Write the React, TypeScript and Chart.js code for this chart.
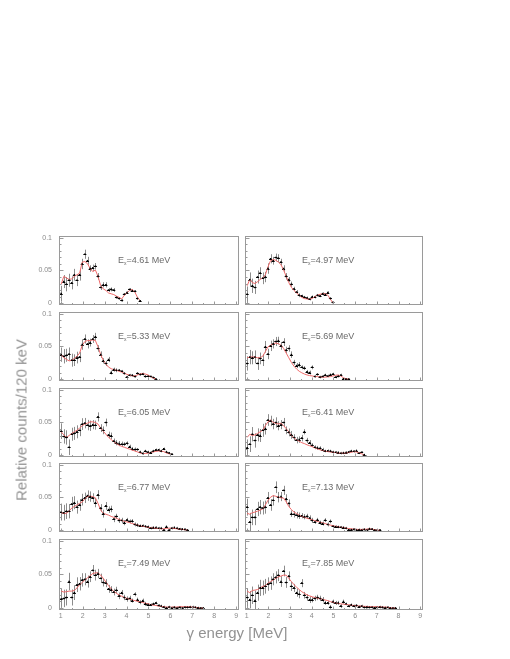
import React, { useEffect, useRef } from 'react';
import { Chart, registerables } from 'chart.js';
Chart.register(...registerables);

// ---------------- DATA ----------------
const energyBins = [1.02, 1.14, 1.26, 1.38, 1.5, 1.62, 1.74, 1.86, 1.98, 2.1, 2.22, 2.34, 2.46, 2.58, 2.7, 2.82, 2.94, 3.06, 3.18, 3.3, 3.42, 3.54, 3.66, 3.78, 3.9, 4.02, 4.14, 4.26, 4.38, 4.5, 4.62, 4.74, 4.86, 4.98, 5.1, 5.22, 5.34, 5.46, 5.58, 5.7, 5.82, 5.94, 6.06, 6.18, 6.3, 6.42, 6.54, 6.66, 6.78, 6.9, 7.02, 7.14, 7.26, 7.38, 7.5, 7.62, 7.74, 7.86];

const excitationEnergies = ['4.61', '4.97', '5.33', '5.69', '6.05', '6.41', '6.77', '7.13', '7.49', '7.85'];

const yTickValues = [0, 0.05, 0.1];
const yMinorTickValues = [0.01, 0.02, 0.03, 0.04, 0.06, 0.07, 0.08, 0.09];
const xTickValues = [1, 2, 3, 4, 5, 6, 7, 8, 9];
const xMinorTickValues = [1.5, 2.5, 3.5, 4.5, 5.5, 6.5, 7.5, 8.5];

const counts461 = [0.0145, 0.033, 0.029, 0.035, 0.031, 0.0435, 0.035, 0.0435, 0.06, 0.075, 0.065, 0.053, 0.054, 0.0565, 0.041, 0.024, 0.028, 0.028, 0.02, 0.021, 0.02, 0.0087, 0.007, 0.004, 0.0135, 0.016, 0.021, 0.019, 0.018, 0.007, 0.0034];
const model461 = [0.029, 0.041, 0.0387, 0.0362, 0.0372, 0.041, 0.0435, 0.0459, 0.0628, 0.0638, 0.0604, 0.0531, 0.0483, 0.0507, 0.041, 0.0266, 0.0217, 0.0193, 0.0155, 0.0142, 0.013, 0.0106, 0.0087, 0.0063, 0.0121, 0.0159, 0.0193, 0.0208, 0.0169, 0.0087, 0.0039];
const err461 = [0.012, 0.01, 0.011, 0.01, 0.01, 0.009, 0.009, 0.009, 0.008, 0.007, 0.006, 0.005, 0.005, 0.005, 0.005, 0.004, 0.004, 0.004, 0.003, 0.003, 0.003, 0.002, 0.002, 0.002, 0.002, 0.002, 0.002, 0.002, 0.002, 0.002, 0.001];

const counts497 = [0.0135, 0.036, 0.0265, 0.024, 0.04, 0.046, 0.038, 0.04, 0.053, 0.068, 0.065, 0.07, 0.069, 0.063, 0.053, 0.041, 0.036, 0.029, 0.022, 0.017, 0.012, 0.011, 0.009, 0.008, 0.006, 0.0097, 0.009, 0.012, 0.011, 0.0145, 0.013, 0.016, 0.007, 0.001];
const model497 = [0.0266, 0.0362, 0.0314, 0.03, 0.0329, 0.0362, 0.0387, 0.0435, 0.0556, 0.0652, 0.0667, 0.0657, 0.0628, 0.0589, 0.0507, 0.041, 0.0314, 0.0242, 0.0193, 0.0155, 0.0121, 0.0087, 0.0068, 0.0063, 0.0058, 0.0072, 0.0097, 0.0121, 0.0135, 0.0145, 0.0145, 0.0121, 0.0058, 0];
const err497 = [0.012, 0.011, 0.011, 0.01, 0.01, 0.009, 0.009, 0.008, 0.008, 0.007, 0.006, 0.006, 0.006, 0.005, 0.005, 0.005, 0.004, 0.004, 0.003, 0.003, 0.003, 0.002, 0.002, 0.002, 0.002, 0.002, 0.002, 0.002, 0.002, 0.002, 0.002, 0.002, 0.002, 0.001];

const counts533 = [0.0375, 0.035, 0.0365, 0.0385, 0.029, 0.029, 0.033, 0.034, 0.053, 0.0615, 0.054, 0.056, 0.0615, 0.065, 0.047, 0.0375, 0.028, 0.024, 0.03, 0.01, 0.0145, 0.0135, 0.0135, 0.012, 0.0087, 0.003, 0.006, 0.0058, 0.004, 0.0087, 0.007, 0.0077, 0.004, 0.0043, 0.004, 0.0024, 0];
const model533 = [0.0375, 0.0327, 0.0303, 0.0279, 0.0288, 0.0317, 0.0351, 0.0399, 0.0519, 0.0577, 0.0591, 0.0591, 0.0601, 0.0591, 0.0495, 0.0375, 0.0288, 0.0231, 0.0183, 0.0159, 0.0144, 0.0135, 0.012, 0.0106, 0.0087, 0.0072, 0.0058, 0.0048, 0.0048, 0.0063, 0.0077, 0.0087, 0.0077, 0.0063, 0.0038, 0.0014, 0];
const err533 = [0.011, 0.011, 0.01, 0.01, 0.01, 0.009, 0.009, 0.008, 0.008, 0.007, 0.007, 0.006, 0.006, 0.006, 0.005, 0.005, 0.004, 0.004, 0.004, 0.003, 0.003, 0.003, 0.002, 0.002, 0.002, 0.002, 0.002, 0.002, 0.002, 0.002, 0.002, 0.002, 0.002, 0.002, 0.001, 0.001, 0.001];

const counts569 = [0.024, 0.0337, 0.0327, 0.034, 0.024, 0.0317, 0.029, 0.0495, 0.0385, 0.051, 0.054, 0.0577, 0.059, 0.051, 0.0567, 0.0447, 0.047, 0.0375, 0.0255, 0.0207, 0.022, 0.018, 0.0168, 0.011, 0.01, 0.018, 0.004, 0.0072, 0.003, 0.004, 0.0063, 0.0048, 0.0067, 0.0077, 0.003, 0.0043, 0.0063, 0.0005, 0, 0];
const model569 = [0.0327, 0.0337, 0.0341, 0.0337, 0.0327, 0.0327, 0.0351, 0.0423, 0.0495, 0.0519, 0.0543, 0.0553, 0.0543, 0.0519, 0.0471, 0.0399, 0.0327, 0.0255, 0.0197, 0.0154, 0.012, 0.0096, 0.0077, 0.0063, 0.0053, 0.0048, 0.0038, 0.0038, 0.0034, 0.0029, 0.0029, 0.0034, 0.0038, 0.0048, 0.0058, 0.0063, 0.0048, 0.0019, 0.0005, 0];
const err569 = [0.011, 0.011, 0.01, 0.01, 0.01, 0.009, 0.009, 0.009, 0.008, 0.008, 0.007, 0.007, 0.006, 0.006, 0.006, 0.005, 0.005, 0.005, 0.004, 0.004, 0.004, 0.003, 0.003, 0.003, 0.003, 0.003, 0.002, 0.002, 0.002, 0.002, 0.002, 0.002, 0.002, 0.002, 0.002, 0.002, 0.002, 0.001, 0.001, 0.001];

const counts605 = [0.0367, 0.0286, 0.027, 0.012, 0.032, 0.0333, 0.0357, 0.038, 0.0476, 0.049, 0.046, 0.045, 0.0467, 0.046, 0.0586, 0.0414, 0.038, 0.05, 0.031, 0.0295, 0.0214, 0.019, 0.0176, 0.0167, 0.0167, 0.018, 0.0129, 0.0095, 0.0086, 0.0086, 0.0048, 0.0024, 0.0062, 0.0048, 0.0038, 0.0062, 0.0081, 0.0081, 0.0062, 0.0095, 0.0048, 0.0033, 0.0014];
const model605 = [0.0357, 0.031, 0.0271, 0.03, 0.0333, 0.0357, 0.0381, 0.0414, 0.0452, 0.0476, 0.049, 0.051, 0.051, 0.05, 0.0476, 0.0414, 0.0367, 0.0319, 0.0271, 0.0238, 0.0205, 0.0176, 0.0152, 0.0133, 0.0119, 0.0105, 0.009, 0.0076, 0.0062, 0.0048, 0.0033, 0.0024, 0.0024, 0.0029, 0.0038, 0.0048, 0.0057, 0.0062, 0.0062, 0.0052, 0.0033, 0.0019, 0.001];
const err605 = [0.012, 0.011, 0.011, 0.012, 0.01, 0.01, 0.01, 0.009, 0.009, 0.008, 0.008, 0.008, 0.007, 0.007, 0.007, 0.006, 0.006, 0.006, 0.005, 0.005, 0.004, 0.004, 0.004, 0.004, 0.003, 0.003, 0.003, 0.003, 0.003, 0.002, 0.002, 0.002, 0.002, 0.002, 0.002, 0.002, 0.002, 0.002, 0.002, 0.002, 0.002, 0.0015, 0.0015];

const counts641 = [0.011, 0.0167, 0.032, 0.0224, 0.031, 0.03, 0.038, 0.0405, 0.0538, 0.0524, 0.0476, 0.05, 0.045, 0.0467, 0.05, 0.038, 0.0348, 0.031, 0.027, 0.0229, 0.0238, 0.026, 0.0357, 0.0224, 0.019, 0.0152, 0.0119, 0.011, 0.0105, 0.0081, 0.0062, 0.0067, 0.0062, 0.0048, 0.0043, 0.0038, 0.0029, 0.0033, 0.0038, 0.0048, 0.0062, 0.0057, 0.0067, 0.0029, 0.0043, 0.0005];
const model641 = [0.0271, 0.0319, 0.03, 0.031, 0.0333, 0.0357, 0.0381, 0.0452, 0.051, 0.0538, 0.05, 0.049, 0.0476, 0.049, 0.0452, 0.0405, 0.0357, 0.03, 0.0262, 0.0233, 0.0214, 0.019, 0.0176, 0.0157, 0.0143, 0.0129, 0.011, 0.0095, 0.0081, 0.0071, 0.0062, 0.0052, 0.0048, 0.0043, 0.0038, 0.0033, 0.0029, 0.0029, 0.0033, 0.0038, 0.0043, 0.0052, 0.0048, 0.0033, 0.0019, 0];
const err641 = [0.013, 0.012, 0.011, 0.011, 0.01, 0.01, 0.01, 0.009, 0.009, 0.008, 0.008, 0.008, 0.007, 0.007, 0.007, 0.006, 0.006, 0.006, 0.005, 0.005, 0.005, 0.005, 0.004, 0.004, 0.004, 0.003, 0.003, 0.003, 0.003, 0.003, 0.002, 0.002, 0.002, 0.002, 0.002, 0.002, 0.002, 0.002, 0.002, 0.002, 0.002, 0.002, 0.002, 0.0015, 0.0015, 0.0015];

const counts677 = [0.0276, 0.0267, 0.029, 0.029, 0.04, 0.042, 0.0352, 0.0386, 0.0467, 0.0495, 0.0529, 0.0514, 0.0495, 0.042, 0.0543, 0.0338, 0.0252, 0.0371, 0.0314, 0.0324, 0.0171, 0.021, 0.0148, 0.0148, 0.0114, 0.0157, 0.0133, 0.0138, 0.0086, 0.0076, 0.0067, 0.0067, 0.0057, 0.0052, 0.0029, 0.0038, 0.0038, 0.0029, 0.0029, 0, 0.0052, 0, 0.0029, 0.0038, 0.0029, 0.0019, 0.0014, 0.001, 0];
const model677 = [0.0267, 0.0257, 0.0257, 0.029, 0.0338, 0.0362, 0.0386, 0.041, 0.0433, 0.0481, 0.0514, 0.0519, 0.0514, 0.0495, 0.041, 0.0305, 0.0257, 0.0243, 0.0229, 0.021, 0.0195, 0.0181, 0.0162, 0.0148, 0.0133, 0.0124, 0.0114, 0.01, 0.009, 0.0076, 0.0067, 0.0057, 0.0052, 0.0043, 0.0038, 0.0033, 0.0029, 0.0024, 0.0019, 0.0019, 0.0024, 0.0029, 0.0029, 0.0024, 0.0019, 0.0014, 0.001, 0.0005, 0];
const err677 = [0.013, 0.012, 0.012, 0.011, 0.011, 0.01, 0.01, 0.009, 0.009, 0.008, 0.008, 0.008, 0.007, 0.007, 0.007, 0.006, 0.006, 0.006, 0.005, 0.005, 0.005, 0.004, 0.004, 0.004, 0.004, 0.003, 0.003, 0.003, 0.003, 0.003, 0.002, 0.002, 0.002, 0.002, 0.002, 0.002, 0.002, 0.002, 0.002, 0.002, 0.002, 0.002, 0.002, 0.002, 0.002, 0.0015, 0.0015, 0.0015, 0.0015];

const counts713 = [0.0352, 0.0124, 0.0195, 0.0195, 0.0324, 0.0352, 0.0338, 0.0352, 0.0495, 0.0386, 0.0457, 0.0657, 0.0505, 0.0514, 0.061, 0.048, 0.041, 0.0252, 0.0243, 0.0229, 0.022, 0.022, 0.0205, 0.021, 0.0186, 0.0148, 0.0124, 0.0157, 0.0114, 0.01, 0.0152, 0.0086, 0.0133, 0.0057, 0.0052, 0.0048, 0.0043, 0.0038, 0.0029, 0.0005, 0.0005, 0.001, 0, 0.0005, 0, 0.001, 0, 0.0019, 0.0014, 0, 0, 0];
const model713 = [0.0257, 0.0243, 0.0267, 0.0276, 0.029, 0.0305, 0.0324, 0.0386, 0.0457, 0.0505, 0.0529, 0.0519, 0.0505, 0.0495, 0.0491, 0.0433, 0.0362, 0.0314, 0.0276, 0.0252, 0.0229, 0.021, 0.0195, 0.0181, 0.0171, 0.0157, 0.0143, 0.0133, 0.0119, 0.011, 0.01, 0.0086, 0.0076, 0.0067, 0.0057, 0.0052, 0.0043, 0.0038, 0.0029, 0.0024, 0.0019, 0.0014, 0.001, 0.001, 0.001, 0.001, 0.0014, 0.0019, 0.0014, 0.0005, 0, 0];
const err713 = [0.013, 0.014, 0.012, 0.012, 0.011, 0.011, 0.01, 0.01, 0.009, 0.009, 0.008, 0.009, 0.008, 0.007, 0.007, 0.007, 0.006, 0.005, 0.005, 0.005, 0.005, 0.004, 0.004, 0.004, 0.004, 0.004, 0.003, 0.003, 0.003, 0.003, 0.003, 0.003, 0.003, 0.002, 0.002, 0.002, 0.002, 0.002, 0.002, 0.002, 0.002, 0.002, 0.002, 0.002, 0.002, 0.002, 0.002, 0.002, 0.0015, 0.0015, 0.0015, 0.0015];

const counts749 = [0.0133, 0.0143, 0.0157, 0.0395, 0.0157, 0.0229, 0.0348, 0.0362, 0.0419, 0.0429, 0.0395, 0.0467, 0.0562, 0.049, 0.0514, 0.0443, 0.0381, 0.0371, 0.0286, 0.0276, 0.0238, 0.0267, 0.0181, 0.0229, 0.0157, 0.0133, 0.0143, 0.011, 0.0205, 0.0124, 0.0086, 0.011, 0.0062, 0.0052, 0.0048, 0.0062, 0.0076, 0.0038, 0.0029, 0.0014, 0, 0.0014, 0, 0.001, 0, 0.001, 0, 0.001, 0.001, 0.0014, 0.0014, 0.001, 0.0005, 0, 0];
const model749 = [0.0252, 0.0238, 0.0243, 0.0252, 0.0252, 0.0262, 0.03, 0.0348, 0.0381, 0.0419, 0.0452, 0.0481, 0.0514, 0.0524, 0.0524, 0.049, 0.0443, 0.0386, 0.0333, 0.0286, 0.0248, 0.0219, 0.0195, 0.0176, 0.0157, 0.0143, 0.0133, 0.0119, 0.011, 0.01, 0.009, 0.0081, 0.0071, 0.0062, 0.0052, 0.0043, 0.0038, 0.0029, 0.0024, 0.0019, 0.0014, 0.0014, 0.0014, 0.0014, 0.0014, 0.0019, 0.0019, 0.0019, 0.0019, 0.0019, 0.0014, 0.001, 0.0005, 0, 0];
const err749 = [0.016, 0.013, 0.012, 0.013, 0.012, 0.011, 0.011, 0.01, 0.01, 0.009, 0.009, 0.008, 0.008, 0.008, 0.007, 0.007, 0.006, 0.006, 0.006, 0.005, 0.005, 0.005, 0.005, 0.004, 0.004, 0.004, 0.004, 0.003, 0.003, 0.003, 0.003, 0.003, 0.003, 0.002, 0.002, 0.002, 0.002, 0.002, 0.002, 0.002, 0.002, 0.002, 0.002, 0.002, 0.002, 0.002, 0.002, 0.002, 0.002, 0.002, 0.002, 0.0015, 0.0015, 0.0015, 0.0015];

const counts785 = [0.0157, 0.0124, 0.019, 0.011, 0.0229, 0.03, 0.03, 0.0324, 0.0357, 0.0371, 0.0429, 0.0457, 0.049, 0.0395, 0.0552, 0.0381, 0.0476, 0.0324, 0.03, 0.0229, 0.0205, 0.0371, 0.019, 0.0157, 0.0124, 0.0124, 0.0143, 0.0157, 0.0143, 0.0124, 0.0076, 0.0076, 0.0014, 0.0095, 0.0076, 0.0076, 0.0029, 0.0095, 0.0062, 0.0029, 0.0048, 0.0029, 0.0038, 0.0019, 0.0029, 0.001, 0.0014, 0.001, 0.001, 0.0005, 0.001, 0.0014, 0.001, 0.0005, 0.001, 0, 0, 0];
const model785 = [0.0252, 0.0229, 0.0262, 0.0267, 0.0276, 0.03, 0.0324, 0.0333, 0.0371, 0.0395, 0.0419, 0.0443, 0.0467, 0.0476, 0.049, 0.049, 0.0443, 0.0395, 0.0348, 0.031, 0.0276, 0.0243, 0.0219, 0.0195, 0.0181, 0.0167, 0.0157, 0.0148, 0.0138, 0.0129, 0.0119, 0.011, 0.0095, 0.0086, 0.0076, 0.0067, 0.0062, 0.0057, 0.0052, 0.0048, 0.0043, 0.0038, 0.0033, 0.0029, 0.0029, 0.0024, 0.0024, 0.0019, 0.0019, 0.0019, 0.0019, 0.0019, 0.0014, 0.0014, 0.001, 0.0005, 0, 0];
const err785 = [0.014, 0.013, 0.013, 0.015, 0.012, 0.012, 0.011, 0.011, 0.01, 0.01, 0.009, 0.009, 0.009, 0.008, 0.008, 0.008, 0.007, 0.007, 0.006, 0.006, 0.006, 0.006, 0.005, 0.005, 0.005, 0.004, 0.004, 0.004, 0.004, 0.004, 0.003, 0.003, 0.003, 0.003, 0.003, 0.003, 0.003, 0.003, 0.002, 0.002, 0.002, 0.002, 0.002, 0.002, 0.002, 0.002, 0.002, 0.002, 0.002, 0.002, 0.002, 0.002, 0.002, 0.002, 0.0015, 0.0015, 0.0015, 0.0015];

const panelCounts = [counts461, counts497, counts533, counts569, counts605, counts641, counts677, counts713, counts749, counts785];
const panelModels = [model461, model497, model533, model569, model605, model641, model677, model713, model749, model785];
const panelErrors = [err461, err497, err533, err569, err605, err641, err677, err713, err749, err785];

// ---------------- LAYOUT ----------------
const COL_LEFT = [59, 243];
const AREA_W = 182;
const ROW_TOP0 = 234;
const ROW_STEP = 75.75;
const AREA_H = 73;
const X_MIN = 0.92;
const X_MAX = 9.13;
const Y_MIN = -0.003;
const Y_MAX = 0.103;
const FONT = '"Liberation Sans", Arial, Helvetica, sans-serif';
const FRAME_COLOR = '#9a9a9a';
const TICK_TEXT = '#8a8a8a';

const framePlugin = {
  id: 'rootFrame',
  afterDraw(chart: any) {
    const { ctx, chartArea: a, scales } = chart;
    ctx.save();
    ctx.strokeStyle = FRAME_COLOR;
    ctx.lineWidth = 1;
    ctx.strokeRect(Math.round(a.left) + 0.5, Math.round(a.top) + 0.5, Math.round(a.right - a.left) - 1, Math.round(a.bottom - a.top) - 1);
    ctx.beginPath();
    const ys = scales.y;
    const xs = scales.x;
    const L = Math.round(a.left) + 0.5;
    yTickValues.forEach((v) => {
      const py = Math.round(ys.getPixelForValue(v)) + 0.5;
      ctx.moveTo(L, py); ctx.lineTo(L + 4, py);
    });
    yMinorTickValues.forEach((v) => {
      const py = Math.round(ys.getPixelForValue(v)) + 0.5;
      ctx.moveTo(L, py); ctx.lineTo(L + 2, py);
    });
    const B = Math.round(a.bottom) - 0.5;
    xTickValues.forEach((v) => {
      const px = Math.round(xs.getPixelForValue(v)) + 0.5;
      ctx.moveTo(px, B); ctx.lineTo(px, B - 3);
    });
    xMinorTickValues.forEach((v) => {
      const px = Math.round(xs.getPixelForValue(v)) + 0.5;
      ctx.moveTo(px, B); ctx.lineTo(px, B - 1.5);
    });
    ctx.stroke();
    ctx.restore();
  },
};

const errorBarPlugin = {
  id: 'errorBars',
  beforeDatasetsDraw(chart: any) {
    const { ctx, scales } = chart;
    const meta = chart.getDatasetMeta(1);
    const ds = chart.data.datasets[1];
    ctx.save();
    ctx.strokeStyle = '#8c8c8c';
    ctx.lineWidth = 1;
    ctx.beginPath();
    meta.data.forEach((el: any, i: number) => {
      const raw = ds.data[i];
      const px = Math.round(el.x) + 0.5;
      const top = scales.y.getPixelForValue(Math.min(raw.y + raw.err, Y_MAX));
      const bot = scales.y.getPixelForValue(Math.max(raw.y - raw.err, Y_MIN));
      ctx.moveTo(px, top);
      ctx.lineTo(px, bot);
    });
    ctx.stroke();
    ctx.strokeStyle = '#000';
    ctx.beginPath();
    meta.data.forEach((el: any) => {
      const py = Math.round(el.y) + 0.5;
      ctx.moveTo(el.x - 1.5, py);
      ctx.lineTo(el.x + 1.5, py);
    });
    ctx.stroke();
    ctx.restore();
  },
};

const zeroPadding = (s: any) => {
  s.paddingTop = 0;
  s.paddingBottom = 0;
  s.paddingLeft = 0;
  s.paddingRight = 0;
};

function Panel({ index }: { index: number }) {
  const ref = useRef<HTMLCanvasElement>(null);
  const row = Math.floor(index / 2);
  const col = index % 2;
  const areaL = COL_LEFT[col];
  const areaT = Math.round(ROW_TOP0 + row * ROW_STEP);
  const padL = col === 0 ? 40 : 2;
  const padR = 2;
  const padT = 2;
  const padB = row === 4 ? 14 : 2;
  const width = AREA_W + padL + padR;
  const height = AREA_H + padT + padB;

  useEffect(() => {
    const counts = panelCounts[index];
    const model = panelModels[index];
    const errs = panelErrors[index];
    const pts = counts.map((v, i) => ({ x: energyBins[i], y: v, err: errs[i] }));
    const modelPts = model.map((v, i) => ({ x: energyBins[i], y: v }));
    const chart = new Chart(ref.current as HTMLCanvasElement, {
      type: 'scatter',
      data: {
        datasets: [
          {
            type: 'line',
            data: modelPts,
            borderColor: '#f06a6a',
            borderWidth: 1,
            pointRadius: 0,
            tension: 0,
            order: 2,
          } as any,
          {
            data: pts,
            pointStyle: 'rect',
            pointRadius: 1.1,
            backgroundColor: '#000',
            borderColor: '#000',
            borderWidth: 0,
            order: 1,
          } as any,
        ],
      },
      options: {
        animation: false,
        responsive: false,
        maintainAspectRatio: false,
        events: [],
        layout: { padding: { left: 0, right: padR, top: padT, bottom: 0 } },
        plugins: { legend: { display: false }, tooltip: { enabled: false } },
        scales: {
          x: {
            type: 'linear',
            min: X_MIN,
            max: X_MAX,
            grid: { display: false, drawTicks: false },
            border: { display: false },
            ticks: {
              display: row === 4,
              autoSkip: false,
              maxRotation: 0,
              padding: 2,
              color: TICK_TEXT,
              font: { family: FONT, size: 7 },
              callback: (v: any) => String(v),
            },
            afterBuildTicks: (s: any) => { s.ticks = xTickValues.map((v) => ({ value: v })); },
            afterFit: (s: any) => { s.height = padB; zeroPadding(s); },
          },
          y: {
            type: 'linear',
            min: Y_MIN,
            max: Y_MAX,
            grid: { display: false, drawTicks: false },
            border: { display: false },
            ticks: {
              display: col === 0,
              padding: 7,
              color: TICK_TEXT,
              font: { family: FONT, size: 7 },
              callback: (v: any) => String(v),
            },
            afterBuildTicks: (s: any) => { s.ticks = yTickValues.map((v) => ({ value: v })); },
            afterFit: (s: any) => { s.width = padL; zeroPadding(s); },
          },
        },
      },
      plugins: [framePlugin, errorBarPlugin],
    });
    return () => chart.destroy();
  }, [index]);

  return (
    <>
      <canvas
        ref={ref}
        width={width}
        height={height}
        style={{ position: 'absolute', left: areaL - padL, top: areaT - padT, width, height }}
      />
      <div
        style={{
          position: 'absolute',
          left: col === 0 ? 118 : 302,
          top: areaT + 21,
          fontFamily: FONT,
          fontSize: 9,
          color: '#6a6a6a',
          whiteSpace: 'nowrap',
          lineHeight: '10px',
        }}
      >
        E<sub style={{ fontSize: 5, verticalAlign: '-2px' }}>x</sub>={excitationEnergies[index]} MeV
      </div>
    </>
  );
}

export default function App() {
  return (
    <div style={{ position: 'absolute', left: 0, top: 0, width: 510, height: 659, background: '#fff', overflow: 'hidden' }}>
      {excitationEnergies.map((_, i) => (
        <Panel key={i} index={i} />
      ))}
      <div
        style={{
          position: 'absolute',
          left: 21,
          top: 420,
          transform: 'translate(-50%, -50%) rotate(-90deg)',
          fontFamily: FONT,
          fontSize: 15,
          color: '#929292',
          whiteSpace: 'nowrap',
        }}
      >
        Relative counts/120 keV
      </div>
      <div
        style={{
          position: 'absolute',
          left: 237,
          top: 632,
          transform: 'translate(-50%, -50%)',
          fontFamily: FONT,
          fontSize: 15,
          color: '#929292',
          whiteSpace: 'nowrap',
        }}
      >
        γ energy [MeV]
      </div>
    </div>
  );
}
